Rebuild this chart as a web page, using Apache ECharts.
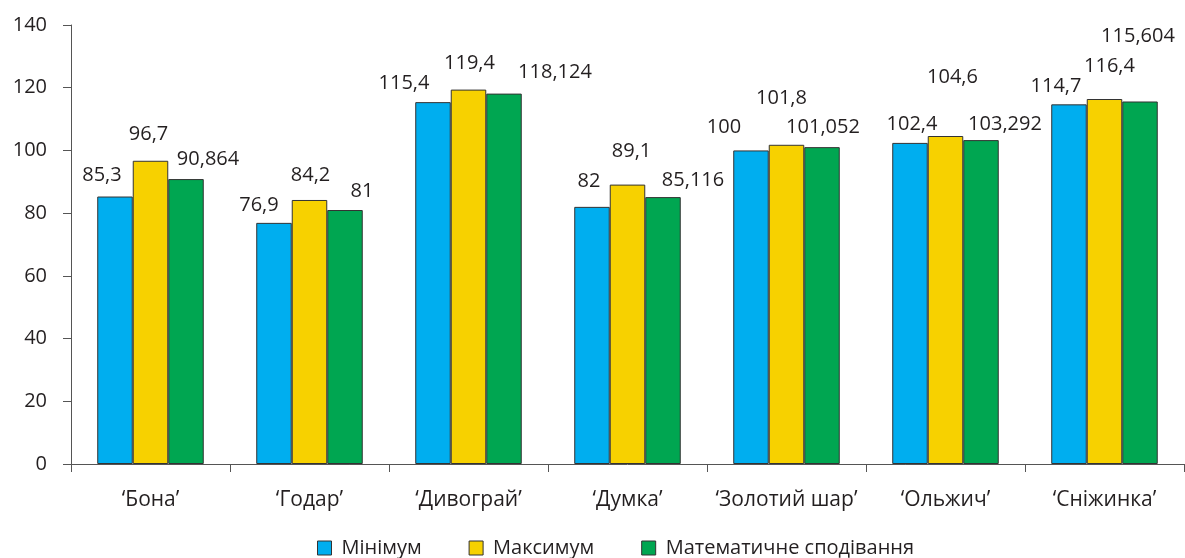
<!DOCTYPE html>
<html>
<head>
<meta charset="utf-8">
<script src="https://cdn.jsdelivr.net/npm/echarts@6/dist/echarts.min.js"></script>
<style>
  html, body { margin: 0; padding: 0; background: #fff; }
  #chart { width: 1185px; height: 558px; }
</style>
</head>
<body>
<div id="chart"></div>
<script>
const categories = ['‘Бона’', '‘Годар’', '‘Дивограй’', '‘Думка’', '‘Золотий шар’', '‘Ольжич’', '‘Сніжинка’'];
const minValues = [85.3, 76.9, 115.4, 82, 100, 102.4, 114.7];
const maxValues = [96.7, 84.2, 119.4, 89.1, 101.8, 104.6, 116.4];
const meanValues = [90.864, 81, 118.124, 85.116, 101.052, 103.292, 115.604];
const seriesNames = ['Мінімум', 'Максимум', 'Математичне сподівання'];

// hand placed label nudges, like in the original
const minShift = [[-13,-6],[-15,-3],[-29,-4],[-3,-11],[-27,-8],[2,-4],[-13,-3]];
const maxShift = [[-2,-11],[1,-10],[1,-11],[4,-18],[-5,-31],[7,-44],[5,-18]];
const meanShift = [[22,-5],[17,-4],[51,-6],[30,-2],[1,-5],[24,-1],[-2,-50]];

const ink = '#231f20';
const font = 'Open Sans';
const fmt = v => String(v).replace('.', ',');

function bars(name, values, shifts, color) {
  return {
    name, type: 'bar', barGap: 0, barCategoryGap: '33%',
    itemStyle: { color, borderColor: '#333', borderWidth: 1 },
    data: values.map((v, i) => ({
      value: v,
      label: { offset: shifts[i] }
    })),
    label: {
      show: true, position: 'top', distance: 5,
      fontFamily: font, fontSize: 20, lineHeight: 20, color: ink,
      formatter: p => fmt(p.value)
    }
  };
}

const chart = echarts.init(document.getElementById('chart'));
chart.setOption({
  animation: false,
  textStyle: { fontFamily: font, color: ink },
  grid: { left: 71, right: 1, top: 25, bottom: 94 },
  legend: {
    bottom: -5, left: 312, itemWidth: 14, itemHeight: 14, itemGap: 47,
    icon: 'rect',
    itemStyle: { borderColor: '#333', borderWidth: 1 },
    textStyle: { fontFamily: font, fontSize: 20, color: ink, padding: [0, 0, 0, 5] },
    data: seriesNames
  },
  xAxis: {
    type: 'category', data: categories,
    axisLine: { lineStyle: { color: '#555', width: 1 } },
    axisTick: { show: true, length: 8, lineStyle: { color: '#555' } },
    axisLabel: { interval: 0, fontFamily: font, fontSize: 21, color: ink, margin: 26 }
  },
  yAxis: {
    type: 'value', min: 0, max: 140, interval: 20,
    axisLine: { show: true, lineStyle: { color: '#555', width: 1 } },
    axisTick: { show: true, length: 8, lineStyle: { color: '#555' } },
    splitLine: { show: false },
    axisLabel: { fontFamily: font, fontSize: 20, color: ink, margin: 24 }
  },
  series: [
    bars(seriesNames[0], minValues, minShift, '#00aeef'),
    bars(seriesNames[1], maxValues, maxShift, '#f7d100'),
    bars(seriesNames[2], meanValues, meanShift, '#00a651')
  ]
});
</script>
</body>
</html>
